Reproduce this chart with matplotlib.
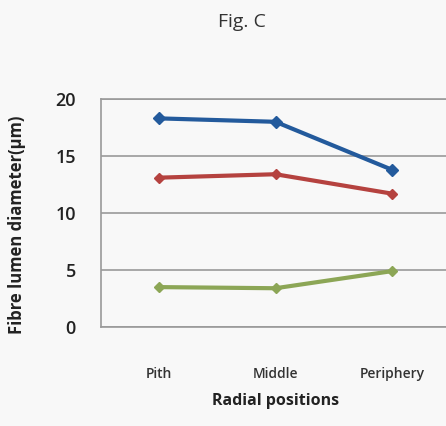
import matplotlib
matplotlib.use("Agg")
import matplotlib.pyplot as plt

positions = ["Pith", "Middle", "Periphery"]
series_blue = [18.3, 18.0, 13.8]
series_red = [13.1, 13.4, 11.7]
series_green = [3.5, 3.4, 4.9]
y_ticks = [0, 5, 10, 15, 20]

plt.rcParams['font.family'] = ['Open Sans', 'DejaVu Sans']

fig = plt.figure(figsize=(4.46, 4.26), dpi=100)
fig.patch.set_facecolor('#f8f8f8')

# plot area runs past the right edge of the figure
ax = fig.add_axes([101 / 446, 1 - 327 / 426, 349 / 446, 228 / 426])
ax.set_facecolor('#f8f8f8')

x = list(range(len(positions)))
ax.plot(x, series_blue, color='#235a9c', lw=3, marker='D', ms=6, zorder=3)
ax.plot(x, series_red, color='#b5423f', lw=3, marker='D', ms=5, zorder=3)
ax.plot(x, series_green, color='#8ca656', lw=3, marker='D', ms=5, zorder=3)

ax.set_xlim(-0.5, 2.5)
ax.set_ylim(0, 20)
ax.set_yticks(y_ticks)
ax.set_xticks(x)
ax.set_xticklabels(positions, fontsize=10, fontweight='semibold', color='#333333')
ax.set_yticklabels([str(v) for v in y_ticks], fontsize=13, fontweight='semibold', color='#222222')
ax.tick_params(axis='x', length=0, pad=29)
ax.tick_params(axis='y', length=0, pad=18)

ax.yaxis.grid(True, color='#9a9a9a', lw=1.2)
ax.set_axisbelow(True)
for s in ['left', 'bottom', 'top']:
    ax.spines[s].set_color('#9a9a9a')
    ax.spines[s].set_linewidth(1.2)
ax.spines['right'].set_visible(False)

fig.text(242 / 446, 1 - 22 / 426, "Fig. C", ha='center', va='center', fontsize=14, color='#333333')
fig.text(17 / 446, 1 - 225 / 426, "Fibre lumen diameter(µm)", ha='center', va='center',
         rotation=90, fontsize=12, fontweight='bold', color='#222222')
fig.text(276 / 446, 1 - 401 / 426, "Radial positions", ha='center', va='center',
         fontsize=11.5, fontweight='bold', color='#222222')

fig.savefig("out.png", dpi=100, facecolor=fig.get_facecolor())
